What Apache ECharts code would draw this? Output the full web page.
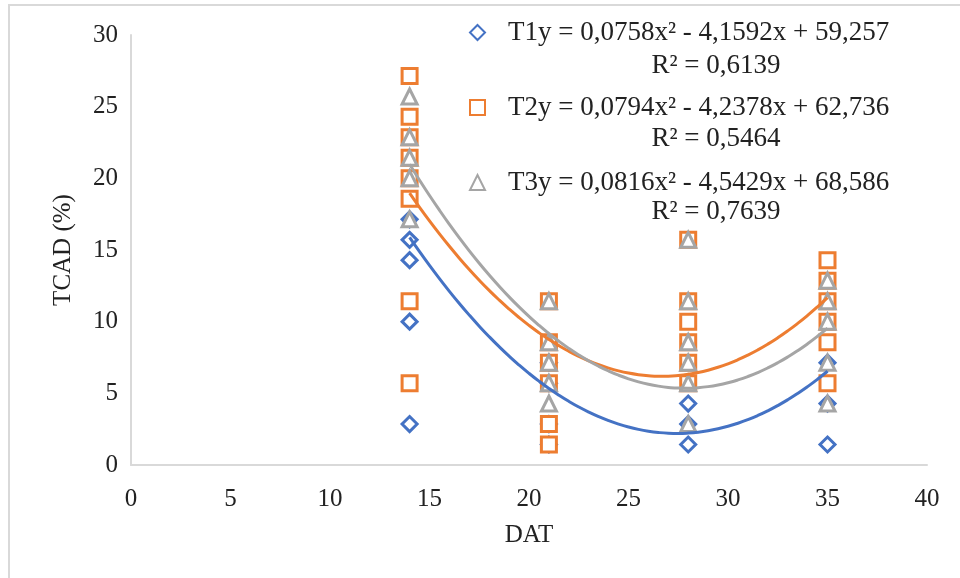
<!DOCTYPE html>
<html>
<head>
<meta charset="utf-8">
<script src="https://cdn.jsdelivr.net/npm/echarts@6/dist/echarts.min.js"></script>
<style>
  html, body { margin: 0; padding: 0; background: #fff; }
  #chart { width: 960px; height: 578px; }
</style>
</head>
<body>
<div id="chart"></div>
<script>
// sampling days (DAT)
const days = [14, 21, 28, 35];

// TCAD (%) readings per day, one list per day
const t1Values = [
    [17.14, 15.71, 14.29, 10, 2.86],
    [7.14, 5.71, 2.86, 1.43],
    [4.29, 2.86, 1.43],
    [7.14, 4.29, 1.43]
];
const t2Values = [
    [27.14, 24.29, 22.86, 21.43, 20, 18.57, 11.43, 5.71],
    [11.43, 8.57, 7.14, 5.71, 2.86, 1.43],
    [15.71, 11.43, 10, 8.57, 7.14, 5.71],
    [14.29, 12.86, 11.43, 10, 8.57, 5.71]
];
const t3Values = [
    [25.71, 22.86, 21.43, 20, 17.14],
    [11.43, 8.57, 7.14, 5.71, 4.29],
    [15.71, 11.43, 8.57, 7.14, 5.71, 2.86],
    [12.86, 11.43, 10, 7.14, 4.29]
];

// polynomial trendlines as printed on the chart: a*x^2 + b*x + c
const t1Coef = [0.0758, -4.1592, 59.257];
const t2Coef = [0.0794, -4.2378, 62.736];
const t3Coef = [0.0816, -4.5429, 68.586];

const equations = ['y = 0,0758x² - 4,1592x + 59,257', 'y = 0,0794x² - 4,2378x + 62,736', 'y = 0,0816x² - 4,5429x + 68,586'];
const r2Labels = ['R² = 0,6139', 'R² = 0,5464', 'R² = 0,7639'];
const seriesNames = ['T1', 'T2', 'T3'];

const colors = ['#4472c4', '#ed7d31', '#a5a5a5'];
const symbols = ['diamond', 'rect', 'triangle'];
const serif = 'Liberation Serif';

const toPoints = (values) => {
    const pts = [];
    values.forEach((list, i) => list.forEach(v => pts.push([days[i], v])));
    return pts;
};

const trendPoints = (coef) => {
    const pts = [];
    for (let x = days[0]; x <= days[days.length - 1] + 0.001; x += 0.5) {
        pts.push([x, coef[0] * x * x + coef[1] * x + coef[2]]);
    }
    return pts;
};

const allValues = [t1Values, t2Values, t3Values];
const allCoef = [t1Coef, t2Coef, t3Coef];

const scatterSeries = seriesNames.map((name, i) => ({
    name: name,
    type: 'scatter',
    symbol: symbols[i],
    symbolSize: 15,
    data: toPoints(allValues[i]),
    itemStyle: {
        color: '#fff',
        borderColor: colors[i],
        borderWidth: 3,
        opacity: 1
    },
    z: 2 + i
}));

const trendSeries = seriesNames.map((name, i) => ({
    name: name + ' trend',
    type: 'line',
    data: trendPoints(allCoef[i]),
    showSymbol: false,
    smooth: true,
    lineStyle: {color: colors[i], width: 3},
    z: 6,
    silent: true
}));

const myChart = echarts.init(document.getElementById('chart'));

const option = {
    animation: false,
    backgroundColor: '#fff',
    grid: {left: 131, right: 33, top: 35, bottom: 113},
    legend: {
        orient: 'vertical',
        left: 469,
        top: 19,
        padding: 0,
        itemWidth: 15,
        itemHeight: 15,
        itemGap: 48,
        data: seriesNames,
        formatter: name => name + equations[seriesNames.indexOf(name)],
        textStyle: {
            fontFamily: serif,
            fontSize: 27,
            lineHeight: 27,
            color: '#222',
            padding: [0, 0, 0, 18]
        }
    },
    xAxis: {
        type: 'value',
        min: 0,
        max: 40,
        interval: 5,
        name: 'DAT',
        nameLocation: 'middle',
        nameGap: 58,
        nameTextStyle: {fontFamily: serif, fontSize: 25, color: '#222'},
        axisLine: {show: true, lineStyle: {color: '#d9d9d9', width: 2}},
        axisTick: {show: false},
        splitLine: {show: false},
        axisLabel: {fontFamily: serif, fontSize: 25, color: '#222', margin: 22}
    },
    yAxis: {
        type: 'value',
        min: 0,
        max: 30,
        interval: 5,
        name: 'TCAD (%)',
        nameLocation: 'middle',
        nameRotate: 90,
        nameGap: 55,
        nameTextStyle: {fontFamily: serif, fontSize: 25, color: '#222'},
        axisLine: {show: true, lineStyle: {color: '#d9d9d9', width: 2}},
        axisTick: {show: false},
        splitLine: {show: false},
        axisLabel: {fontFamily: serif, fontSize: 25, color: '#222', margin: 13}
    },
    graphic: [
        {
            type: 'rect',
            shape: {x: 9, y: 5, width: 1100, height: 1000},
            style: {fill: 'none', stroke: '#d9d9d9', lineWidth: 2},
            silent: true
        },
        ...r2Labels.map((txt, i) => ({
            type: 'text',
            x: 716,
            y: 66 + i * 73,
            style: {
                text: txt,
                font: '27px "Liberation Serif"',
                fill: '#222',
                textAlign: 'center',
                textVerticalAlign: 'middle'
            }
        }))
    ],
    series: [...scatterSeries, ...trendSeries]
};

option && myChart.setOption(option);
</script>
</body>
</html>
